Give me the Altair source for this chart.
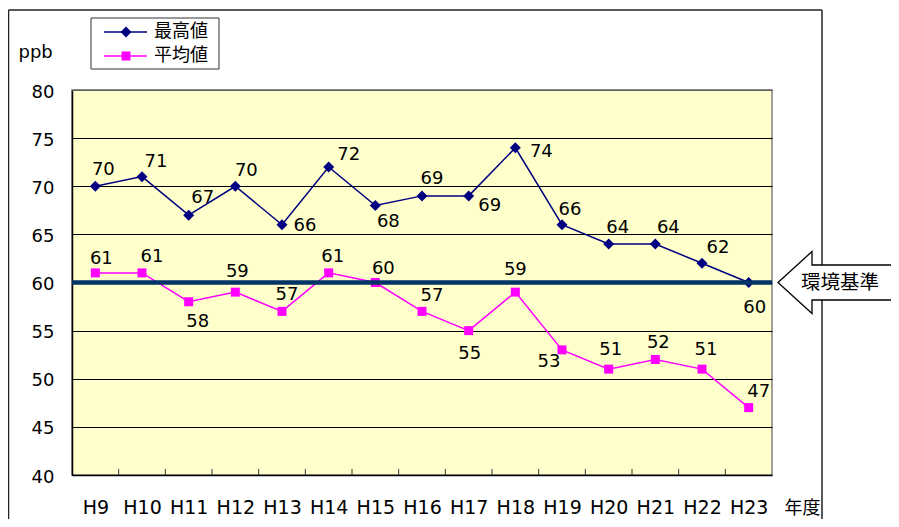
import altair as alt
import pandas as pd

years = ["H9", "H10", "H11", "H12", "H13", "H14", "H15", "H16", "H17", "H18",
         "H19", "H20", "H21", "H22", "H23"]
series_names = ["最高値", "平均値"]
max_vals = [70, 71, 67, 70, 66, 72, 68, 69, 69, 74, 66, 64, 64, 62, 60]
avg_vals = [61, 61, 58, 59, 57, 61, 60, 57, 55, 59, 53, 51, 52, 51, 47]
standard_value = 60
standard_label = "環境基準"
y_ticks = [40, 45, 50, 55, 60, 65, 70, 75, 80]
y_unit = "ppb"
x_unit = "年度"

# data-label placement offsets (pixels)
max_dx = [8, 14, 14, 11, 23, 20, 13, 10, 21, 26, 8, 9, 13, 16, 6]
max_dy = [-16, -15, -17, -15, 1, -12, 16, -17, 10, 4, -15, -16, -16, -15, 25]
avg_dx = [6, 10, 9, 2, 5, 4, 8, 10, 1, 0, -13, 2, 3, 4, 10]
avg_dy = [-14, -16, 20, -20, -16, -16, -14, -15, 23, -22, 12, -19, -17, -19, -16]

navy = "#000080"
magenta = "#FF00FF"
latin_font = "DejaVu Sans"
cjk_font = "Noto Sans CJK JP"
W, H = 700, 385
n = len(years)
y_min, y_max = 40, 80

rows = []
for name, vals, dxs, dys in [(series_names[0], max_vals, max_dx, max_dy),
                             (series_names[1], avg_vals, avg_dx, avg_dy)]:
    for i, (yr, v, ddx, ddy) in enumerate(zip(years, vals, dxs, dys)):
        rows.append({"idx": i, "year": yr, "series": name, "value": v, "dx": ddx, "dy": ddy})
df = pd.DataFrame(rows)

label_expr = "[" + ",".join(f"'{y}'" for y in years) + "][datum.value]"

x_scale = alt.Scale(domain=[-0.5, n - 0.5], nice=False, zero=False)
x_axis = alt.Axis(values=list(range(n)), labelExpr=label_expr, title=x_unit,
                  grid=False, ticks=False, tickSize=0, labelPadding=32,
                  labelBaseline="middle", labelFont=latin_font, labelFontSize=19,
                  labelColor="black", labelAngle=0, labelFlush=False, labelOverlap=False,
                  domainColor="black", domainWidth=1.5,
                  titleFont=cjk_font, titleFontSize=18, titleFontWeight="normal",
                  titleColor="black", titleX=712, titleY=33, titleAlign="left",
                  titleBaseline="middle")
y_scale = alt.Scale(domain=[y_min, y_max], nice=False, zero=False)
y_axis = alt.Axis(values=y_ticks, title=y_unit, titleAngle=0, titleX=-54, titleY=-33,
                  titleAlign="left", titleBaseline="alphabetic", titleFont=latin_font,
                  titleFontSize=18, titleFontWeight="normal", titleColor="black",
                  grid=True, gridColor="black", gridWidth=1, ticks=False, tickSize=0,
                  labelPadding=18, labelFont=latin_font, labelFontSize=18,
                  labelColor="black", labelOffset=2, labelBaseline="middle",
                  domainColor="black", domainWidth=1.5)


def xq(field):
    return alt.X(f"{field}:Q", scale=x_scale, axis=x_axis)


def yq(field):
    return alt.Y(f"{field}:Q", scale=y_scale, axis=y_axis)


color_enc = alt.Color("series:N", scale=alt.Scale(domain=series_names, range=[navy, magenta]),
                      legend=None)
shape_enc = alt.Shape("series:N", scale=alt.Scale(domain=series_names, range=["diamond", "square"]),
                      legend=None)
size_enc = alt.Size("series:N", scale=alt.Scale(domain=series_names, range=[121, 81]),
                    legend=None)

base = alt.Chart(df)

lines = base.mark_line(strokeWidth=1.5).encode(x=xq("idx"), y=yq("value"), color=color_enc,
                                               detail="series:N")
points = base.mark_point(filled=True, opacity=1).encode(
    x=xq("idx"), y=yq("value"), color=color_enc, shape=shape_enc, size=size_enc)
labels = base.transform_calculate(
    lx=f"datum.idx + datum.dx * {n} / {W}",
    ly=f"datum.value - datum.dy * {y_max - y_min} / {H}",
).mark_text(font=latin_font, fontSize=18, color="black", baseline="middle",
            align="center").encode(x=xq("lx"), y=yq("ly"), text="value:Q")

# inward tick marks at category boundaries
tick_df = pd.DataFrame({"edge": [i - 0.5 for i in range(1, n)]})
ticks = alt.Chart(tick_df).mark_rule(color="#333333", strokeWidth=1).encode(
    x=xq("edge"), y=alt.value(H - 6), y2=alt.value(H))

# top border of plot area in grey (over the 80 gridline)
std_df = pd.DataFrame({"value": [standard_value], "label": [standard_label]})
top_edge = alt.Chart(std_df).mark_rule(color="#808080", strokeWidth=1.5).encode(
    x=alt.value(0), x2=alt.value(W), y=alt.value(0))

std_line = alt.Chart(std_df).mark_rule(color="#003366", strokeWidth=4.5).encode(y=yq("value"))

arrow_path = "M0,0L34,-31L34,-17.5L140,-17.5L140,17.5L34,17.5L34,31Z"
arrow = alt.Chart(std_df).mark_point(shape=arrow_path, size=4, filled=True, fill="white",
                                     stroke="black", strokeWidth=1.3, opacity=1).encode(
    x=alt.value(706), y=yq("value"))
arrow_text = alt.Chart(std_df).mark_text(font=cjk_font, fontSize=19.5, color="black",
                                         align="center", baseline="middle").encode(
    x=alt.value(768), y=yq("value"), text="label:N")

# outer chart frame
frame_top = alt.Chart(std_df).mark_rule(color="#222222", strokeWidth=1.5).encode(
    x=alt.value(-63.5), x2=alt.value(750), y=alt.value(-80))
frame_left = alt.Chart(std_df).mark_rule(color="#222222", strokeWidth=1.5).encode(
    x=alt.value(-63.5), y=alt.value(-80), y2=alt.value(460))
frame_right = alt.Chart(std_df).mark_rule(color="#222222", strokeWidth=1.5).encode(
    x=alt.value(750), y=alt.value(-80), y2=alt.value(460))

# legend
legend_layers = [
    alt.Chart(std_df).mark_rect(fill="white", stroke="#333333", strokeWidth=1).encode(
        x=alt.value(19), x2=alt.value(147), y=alt.value(-72), y2=alt.value(-21))
]
legend_rows = [(series_names[0], navy, "diamond", 121, -58),
               (series_names[1], magenta, "square", 81, -34)]
for name, col, shp, sz, lyv in legend_rows:
    ldf = pd.DataFrame({"series": [name]})
    legend_layers.append(alt.Chart(ldf).mark_rule(color=col, strokeWidth=1.5).encode(
        x=alt.value(32), x2=alt.value(75), y=alt.value(lyv)))
    legend_layers.append(alt.Chart(ldf).mark_point(shape=shp, size=sz, filled=True, opacity=1,
                                                   color=col).encode(
        x=alt.value(54), y=alt.value(lyv)))
    legend_layers.append(alt.Chart(ldf).mark_text(font=cjk_font, fontSize=18, color="black",
                                                  align="left", baseline="middle").encode(
        x=alt.value(82), y=alt.value(lyv), text="series:N"))

chart = alt.layer(
    frame_top, frame_left, frame_right,
    top_edge, ticks, lines, points, std_line, labels,
    *legend_layers, arrow, arrow_text,
).properties(
    width=W, height=H,
    autosize=alt.AutoSizeParams(type="none"),
    padding={"left": 64, "top": 82, "right": 119, "bottom": 44},
    background="white",
).configure_view(
    fill="#FFFFCC", stroke="#808080", strokeWidth=1.5
)

chart.save("out.html", embed_options={"renderer": "svg", "actions": False})
